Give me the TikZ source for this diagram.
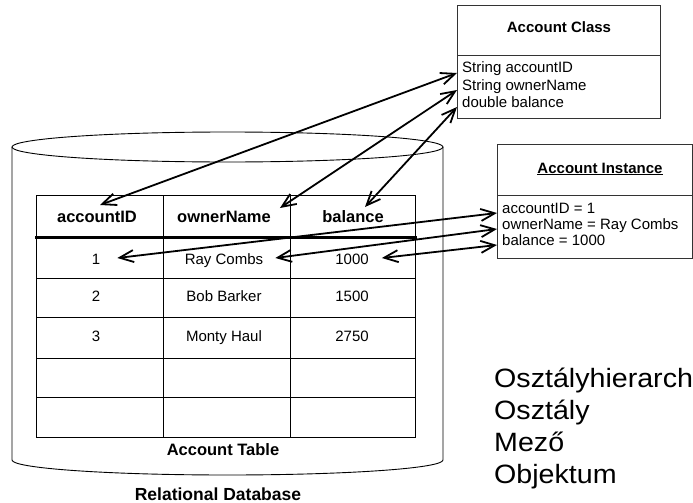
\documentclass[tikz,border=0pt]{standalone}
\usepackage{fontspec}
\setmainfont{Liberation Sans}
\usetikzlibrary{arrows.meta}
\begin{document}
\begin{tikzpicture}[x=1pt,y=-1pt,
  frame/.style={draw=black!80, line width=0.9pt},
  gridline/.style={draw=black, line width=0.9pt},
  conn/.style={line width=1.8pt, {Straight Barb[length=14pt,width=12pt]}-{Straight Barb[length=14pt,width=12pt]}},
  hdr/.style={font=\fontsize{16.5}{18}\selectfont\bfseries, inner sep=0pt, anchor=base},
  cell/.style={font=\fontsize{15}{17}\selectfont, inner sep=0pt, anchor=base},
  attr/.style={font=\fontsize{15}{17}\selectfont, inner xsep=5pt, inner ysep=0pt, anchor=base west},
  ttl/.style={font=\fontsize{15}{17}\selectfont\bfseries, inner sep=0pt, anchor=base},
  tblcaption/.style={font=\fontsize{16.5}{18}\selectfont\bfseries, inner sep=0pt, anchor=base},
  big/.style={font=\fontsize{26.5}{30}\selectfont, inner sep=0pt, anchor=base west}]
\useasboundingbox (0,0) rectangle (693,503);

% ---- cylinder (Relational Database)
\draw[gridline] (227.5,147) ellipse [x radius=215.5, y radius=15];
\draw[gridline] (12,147) -- (12,460)
  .. controls (12,468.3) and (108.5,475) .. (227.5,475)
  .. controls (346.5,475) and (443,468.3) .. (443,460) -- (443,147);

% ---- table
\draw[gridline] (36,195) rectangle (415,437);
\draw[gridline] (163,195) -- (163,437);
\draw[gridline] (290,195) -- (290,437);
\foreach \yy in {278,317,358,397} \draw[gridline] (36,\yy) -- (415,\yy);
\draw[line width=3pt] (35,237) -- (417,237);

\node[hdr] (hID)   at (97,222)  {accountID};
\node[hdr] (hName) at (224,222) {ownerName};
\node[hdr] (hBal)  at (353,222) {balance};

\node[cell] (c11) at (96,264)  {1};
\node[cell] (c12) at (224,264) {Ray Combs};
\node[cell] (c13) at (352,264) {1000};
\node[cell] (c21) at (96,301)  {2};
\node[cell] (c22) at (224,301) {Bob Barker};
\node[cell] (c23) at (352,301) {1500};
\node[cell] (c31) at (96,341)  {3};
\node[cell] (c32) at (224,341) {Monty Haul};
\node[cell] (c33) at (352,341) {2750};

\node[tblcaption] (tbl) at (223,455) {Account Table};
\node[font=\fontsize{17.5}{20}\selectfont\bfseries, inner sep=0pt, anchor=base] (db) at (218,500) {Relational Database};

% ---- Account Class
\draw[frame] (457,5) rectangle (660,118);
\draw[frame] (457,55) -- (660,55);
\node[ttl] (cls) at (559,33) {Account Class};
\node[attr] (ca1) at (457,73)  {String accountID};
\node[attr] (ca2) at (457,90)  {String ownerName};
\node[attr] (ca3) at (457,107) {double balance};

% ---- Account Instance
\draw[frame] (497,144) rectangle (692,258);
\draw[frame] (497,195) -- (692,195);
\node[ttl] (inst) at (600,173) {\underline{Account Instance}};
\node[attr] (ia1) at (497,213) {accountID = 1};
\node[attr] (ia2) at (497,229) {ownerName = Ray Combs};
\node[attr] (ia3) at (497,245) {balance = 1000};

% ---- connectors
\draw[conn] ([xshift=3pt,yshift=17pt]hID.base) -- (ca1.base west);
\draw[conn] ([xshift=9pt,yshift=14pt]hName.base east) -- (ca2.base west);
\draw[conn] ([xshift=12pt,yshift=15pt]hBal.base) -- (ca3.base west);
\draw[conn] ([xshift=17pt,yshift=6pt]c11.base east) -- (ia1.base west);
\draw[conn] ([xshift=12pt,yshift=6pt]c12.base east) -- (ia2.base west);
\draw[conn] ([xshift=13pt,yshift=6pt]c13.base east) -- (ia3.base west);

% ---- right-hand list
\node[big] (l1) at (494,387) {\scalebox{1.08}[1]{Osztályhierarch}};
\node[big] (l2) at (494,419) {\scalebox{1.08}[1]{Osztály}};
\node[big] (l3) at (494,451) {\scalebox{1.08}[1]{Mező}};
\node[big] (l4) at (494,483) {\scalebox{1.08}[1]{Objektum}};
\end{tikzpicture}
\end{document}
